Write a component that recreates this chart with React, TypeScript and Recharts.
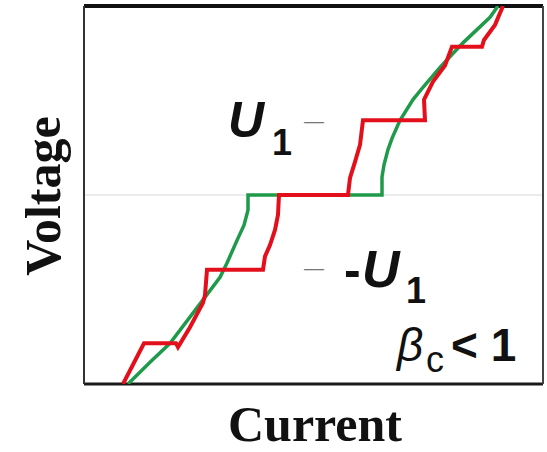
import React from "react";
import { LineChart, Line, XAxis, YAxis, ReferenceLine } from "recharts";

// Current (normalized) and voltage (normalized) readings
const greenCurrent = [-1.86, -1.64, -1.44, -1.11, -0.94, -0.87, -0.77, -0.70, -0.66, -0.66, 0.68, 0.68, 0.70, 0.74, 0.78, 0.86, 0.99, 1.09, 1.26, 1.49, 1.76, 1.84];
const greenVoltage = [-2.0, -1.77, -1.57, -1.11, -0.87, -0.72, -0.48, -0.32, -0.16, 0, 0, 0.19, 0.32, 0.48, 0.6, 0.79, 1.01, 1.14, 1.35, 1.61, 1.88, 2.0];

const redCurrent = [-1.91, -1.70, -1.38, -1.36, -1.24, -1.11, -1.09, -1.07, -0.51, -0.49, -0.44, -0.39, -0.36, -0.35, 0.34, 0.36, 0.41, 0.46, 0.49, 1.11, 1.10, 1.19, 1.31, 1.38, 1.68, 1.70, 1.81, 1.89];
const redVoltage = [-2.0, -1.57, -1.57, -1.61, -1.40, -1.14, -1.06, -0.79, -0.79, -0.65, -0.53, -0.37, -0.21, 0, 0, 0.18, 0.35, 0.53, 0.79, 0.79, 1.01, 1.20, 1.37, 1.57, 1.57, 1.64, 1.80, 2.0];

const currentMin = -2.3;
const currentMax = 2.29;
const voltageMin = -2;
const voltageMax = 2;

const green = greenCurrent.map((c, i) => ({ current: c, voltage: greenVoltage[i] }));
const red = redCurrent.map((c, i) => ({ current: c, voltage: redVoltage[i] }));

const sans = "'Liberation Sans', Arial, sans-serif";
const serif = "'Liberation Serif', 'Times New Roman', serif";

export default function App() {
  return (
    <div style={{ position: "absolute", left: 0, top: 0, width: 547, height: 452, background: "#fff" }}>
      <LineChart width={547} height={452} margin={{ top: 6, right: 4, bottom: 68, left: 84 }}>
        <XAxis type="number" dataKey="current" domain={[currentMin, currentMax]} allowDataOverflow hide />
        <YAxis type="number" dataKey="voltage" domain={[voltageMin, voltageMax]} allowDataOverflow hide />
        <ReferenceLine y={0} stroke="#d8d8d8" strokeWidth={1} ifOverflow="visible" />
        <ReferenceLine y={voltageMax} stroke="#111" strokeWidth={4} ifOverflow="visible" />
        <ReferenceLine y={voltageMin} stroke="#1a1a1a" strokeWidth={3} ifOverflow="visible" />
        <ReferenceLine x={currentMin} stroke="#333" strokeWidth={2} ifOverflow="visible" />
        <ReferenceLine x={currentMax} stroke="#444" strokeWidth={2} ifOverflow="visible" />
        <Line data={green} dataKey="voltage" type="linear" stroke="#1e9a4a" strokeWidth={3.5} dot={false} isAnimationActive={false} />
        <Line data={red} dataKey="voltage" type="linear" stroke="#e3101c" strokeWidth={4} dot={false} isAnimationActive={false} />

        <text x={228} y={137} fontFamily={sans} fontSize={50} fontWeight="bold" fontStyle="italic" fill="#111">U</text>
        <text x={272} y={155} fontFamily={sans} fontSize={36} fontWeight="bold" fill="#111">1</text>
        <text x={304} y={128} fontFamily={sans} fontSize={20} fill="#777">—</text>

        <text x={304} y={275} fontFamily={sans} fontSize={20} fill="#777">—</text>
        <text x={344} y={287} fontFamily={sans} fontSize={50} fontWeight="bold" fill="#111">-</text>
        <text x={362} y={287} fontFamily={sans} fontSize={52} fontWeight="bold" fontStyle="italic" fill="#111">U</text>
        <text x={406} y={303} fontFamily={sans} fontSize={36} fontWeight="bold" fill="#111">1</text>

        <text x={397} y={361} fontFamily={sans} fontSize={46} fontStyle="italic" fill="#111">β</text>
        <text x={426} y={372} fontFamily={sans} fontSize={36} fill="#111">c</text>
        <text x={451} y={361} fontFamily={sans} fontSize={46} fontWeight="bold" fill="#111">&lt; 1</text>

        <text x={315} y={441} textAnchor="middle" fontFamily={serif} fontSize={50} fontWeight="bold" fill="#111">Current</text>
        <text x={60} y={196} transform="rotate(-90 60 196)" textAnchor="middle" fontFamily={serif} fontSize={50} fontWeight="bold" fill="#111">Voltage</text>
      </LineChart>
    </div>
  );
}
